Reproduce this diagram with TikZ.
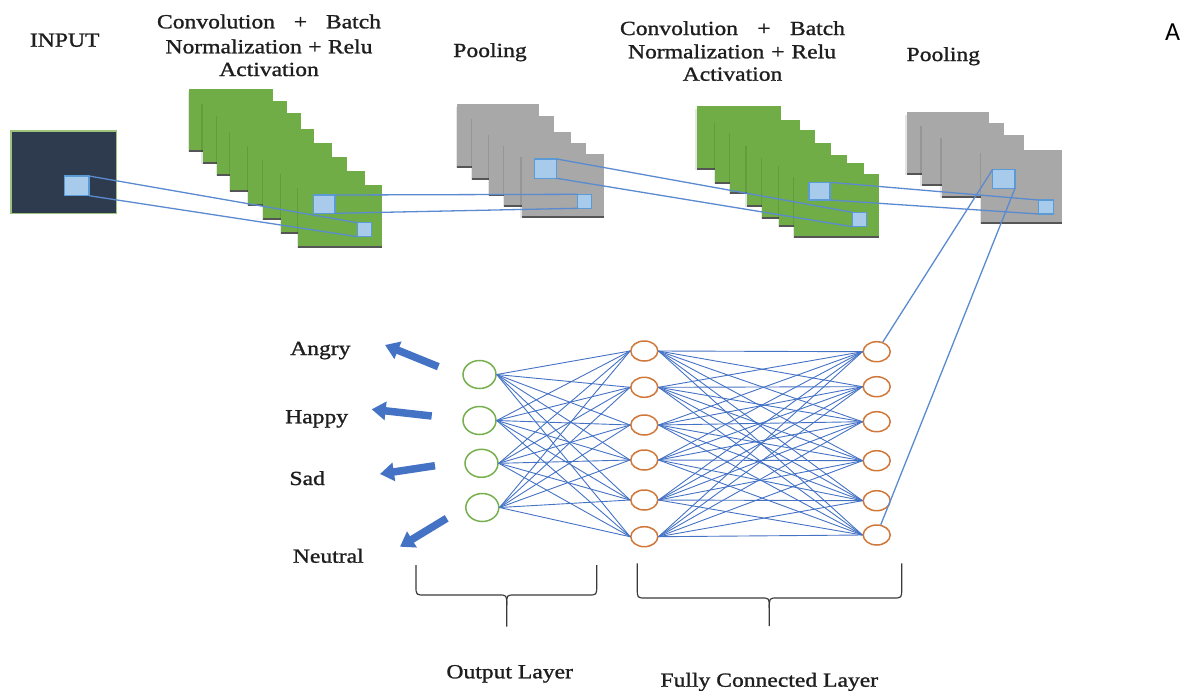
\documentclass[tikz,border=0pt]{standalone}
\usepackage{fontspec}
\setmainfont{Liberation Serif}[FakeStretch=1.18, FakeBold=1.2]
\newfontfamily\cornersans{Carlito}
\usetikzlibrary{arrows.meta,shapes.geometric}

\definecolor{inkgray}{HTML}{1E1E1E}
\definecolor{navy}{HTML}{2E3A4D}
\definecolor{inputedge}{HTML}{9CC27B}
\definecolor{convgreen}{HTML}{70AD47}
\definecolor{poolgray}{HTML}{A8A8A8}
\definecolor{layershadow}{HTML}{555555}
\definecolor{patchfill}{HTML}{A9CBEB}
\definecolor{patchedge}{HTML}{5B9BD5}
\definecolor{wireblue}{HTML}{4472C4}
\definecolor{linkblue}{HTML}{5A8AD0}
\definecolor{outgreen}{HTML}{76B04E}
\definecolor{fcorange}{HTML}{D0773A}
\definecolor{bracegray}{HTML}{3A3A3A}

% one feature map of a stack: x, y (top left), width, height, fill colour
\newcommand\featuremap[5]{%
  \fill[#5] (#1,#2) rectangle ++(#3,#4);
  \fill[black,opacity=0.10] ({#1-1.5},{#2+3}) rectangle (#1,{#2+#4});
  \fill[layershadow] (#1,{#2+#4-2}) rectangle ++(#3,2);
}

% curly brace under a layer: left x, tip x, right x, arm top y, bar y, tip bottom y
\newcommand\layerbrace[6]{%
  \draw[bracestroke] (#1,#4) -- (#1,{#5-9}) .. controls (#1,#5) .. ({#1+9},#5)
     -- ({#2-8},#5) .. controls (#2,#5) .. (#2,{#5+10}) -- (#2,#6);
  \draw[bracestroke] (#2,{#5+10}) .. controls (#2,#5) .. ({#2+8},#5)
     -- ({#3-9},#5) .. controls (#3,#5) .. (#3,{#5-9}) -- (#3,#4);
}

\tikzset{
  caption/.style={inner sep=0pt, text=inkgray},
  patch/.style={draw=patchedge, fill=patchfill, line width=1.1pt, inner sep=0pt,
                outer sep=0pt, anchor=north west},
  wire/.style={draw=linkblue, line width=1.3pt},
  net/.style={draw=wireblue, line width=0.9pt},
  outunit/.style={ellipse, draw=outgreen, fill=white, line width=1.5pt,
                  minimum width=33pt, minimum height=28pt, inner sep=0pt},
  fcunit/.style={ellipse, draw=fcorange, fill=white, line width=1.5pt,
                 minimum width=27pt, minimum height=20pt, inner sep=0pt},
  emoarrow/.style={draw=wireblue, line width=7.5pt,
                   -{Triangle[width=18pt,length=14pt]}},
  bracestroke/.style={draw=bracegray, line width=1.2pt},
}

\begin{document}
\begin{tikzpicture}[x=1pt, y=-1pt, font=\fontsize{20}{24}\selectfont]
\useasboundingbox (0,0) rectangle (1184,691);

% ---------- titles ----------
\node[caption, anchor=base] (tInput) at (64.7,46.7) {INPUT};
\node[caption, anchor=base] (tConvA1) at (269,28.3) {\makebox[224pt][s]{Convolution + Batch}};
\node[caption, anchor=base] (tConvA2) at (269,53.3) {\makebox[207pt][s]{Normalization + Relu}};
\node[caption, anchor=base] (tConvA3) at (269,76) {Activation};
\node[caption, anchor=base] (tPoolA) at (490,57) {Pooling};
\node[caption, anchor=base] (tConvB1) at (732.5,35) {\makebox[225pt][s]{Convolution + Batch}};
\node[caption, anchor=base] (tConvB2) at (732,58.3) {\makebox[208pt][s]{Normalization + Relu}};
\node[caption, anchor=base] (tConvB3) at (732.5,80.7) {Activation};
\node[caption, anchor=base] (tPoolB) at (943.3,61) {Pooling};
\node[inner sep=0pt, anchor=base west, text=black,
      font=\cornersans\fontsize{26}{30}\selectfont] (cornerA) at (1165,40) {A};

% ---------- input image ----------
\fill[navy] (11,131) rectangle (116.7,213.3);
\draw[inputedge, line width=1.2pt] (11,131) rectangle (116.7,213.3);

% ---------- first convolution stack ----------
\foreach \x/\y in {189.3/89.3, 202.7/100.7, 217.3/113.3, 230/129.3,
                   248.3/142.7, 263.3/157.3, 281/170.7, 298.3/185}
  {\featuremap{\x}{\y}{84}{63}{convgreen}}

% ---------- first pooling stack ----------
\foreach \x/\y in {457.3/104.3, 472.3/115.7, 489.3/131.7, 504.3/142.7, 521.7/154.3}
  {\featuremap{\x}{\y}{82}{64}{poolgray}}

% ---------- second convolution stack ----------
\foreach \x/\y in {696.7/105.7, 715/120, 730/130, 746.7/143.3,
                   762.3/155, 779/163.3, 794.3/174}
  {\featuremap{\x}{\y}{84.5}{64}{convgreen}}

% ---------- second pooling stack ----------
\foreach \x/\y in {906.7/112, 921.7/122.5, 941.7/135}
  {\featuremap{\x}{\y}{82}{63}{poolgray}}
\featuremap{981}{149.5}{81}{74.5}{poolgray}

% ---------- receptive-field patches ----------
\node[patch, minimum width=24.7pt, minimum height=19.7pt] (inPatch) at (64.3,176) {};
\node[patch, minimum width=21.7pt, minimum height=18.3pt] (c1Big) at (313.3,195) {};
\node[patch, minimum width=14.4pt, minimum height=14pt] (c1Small) at (357.3,222.7) {};
\node[patch, minimum width=22.4pt, minimum height=19.3pt] (p1Big) at (534.3,159) {};
\node[patch, minimum width=14pt, minimum height=14pt] (p1Small) at (577.7,194.3) {};
\node[patch, minimum width=21pt, minimum height=17.7pt] (c2Big) at (809,182.3) {};
\node[patch, minimum width=14.4pt, minimum height=14.4pt] (c2Small) at (852.3,212.3) {};
\node[patch, minimum width=22.3pt, minimum height=19pt] (p2Big) at (992.7,169.3) {};
\node[patch, minimum width=15pt, minimum height=14pt] (p2Small) at (1038.3,200) {};

\draw[wire] (inPatch.north east) -- (c1Small.north west);
\draw[wire] (inPatch.south east) -- (c1Small.south west);
\draw[wire] (c1Big.north east) -- (p1Small.north west);
\draw[wire] (c1Big.south east) -- (p1Small.south west);
\draw[wire] (p1Big.north east) -- (c2Small.north west);
\draw[wire] (p1Big.south east) -- (c2Small.south west);
\draw[wire] (c2Big.north east) -- (p2Small.north west);
\draw[wire] (c2Big.south east) -- (p2Small.south west);

% ---------- dense layers ----------
\node[outunit] (o1) at (479.5,374.5) {};
\node[outunit] (o2) at (479.5,420.5) {};
\node[outunit] (o3) at (481.5,463.3) {};
\node[outunit] (o4) at (482.3,507.5) {};

\foreach \i/\yy in {1/351, 2/387.3, 3/425, 4/460, 5/500, 6/536.7}
  {\node[fcunit] (f\i) at (644.3,\yy) {};}
\foreach \i/\yy in {1/351.7, 2/386.7, 3/421.7, 4/460.7, 5/500.7, 6/535}
  {\node[fcunit] (h\i) at (876.7,\yy) {};}

\foreach \i in {1,...,4}
  \foreach \j in {1,...,6}
    {\draw[net] (o\i.east) -- (f\j.west);}
\foreach \i in {1,...,6}
  \foreach \j in {1,...,6}
    {\draw[net] (f\i.east) -- (h\j.west);}

\draw[wire] (p2Big.north west) -- (h1);
\draw[wire] (p2Big.south east) -- (h6);

% ---------- class outputs ----------
\node[caption, anchor=base west] (lblAngry) at (290,355) {Angry};
\node[caption, anchor=base west] (lblHappy) at (285,423.3) {Happy};
\node[caption, anchor=base west] (lblSad) at (289.3,485) {Sad};
\node[caption, anchor=base west] (lblNeutral) at (292.7,562.7) {Neutral};

\coordinate (angryTail) at (438.3,366.7);   \coordinate (angryTip) at (385,345);
\coordinate (happyTail) at (431.7,416);     \coordinate (happyTip) at (371.7,409.3);
\coordinate (sadTail) at (435,465.7);       \coordinate (sadTip) at (380,474);
\coordinate (neutralTail) at (446.7,518.3); \coordinate (neutralTip) at (400,546.7);
\draw[emoarrow] (angryTail) -- (angryTip);
\draw[emoarrow] (happyTail) -- (happyTip);
\draw[emoarrow] (sadTail) -- (sadTip);
\draw[emoarrow] (neutralTail) -- (neutralTip);

% ---------- layer braces ----------
\layerbrace{416}{506.7}{596.7}{565}{595}{626.7}
\layerbrace{637.3}{769.3}{901.7}{563.3}{598}{626}
\node[caption, anchor=base] (lblOut) at (509.7,678.3) {Output Layer};
\node[caption, anchor=base] (lblFC) at (769.3,686.7) {Fully Connected Layer};
\end{tikzpicture}
\end{document}
